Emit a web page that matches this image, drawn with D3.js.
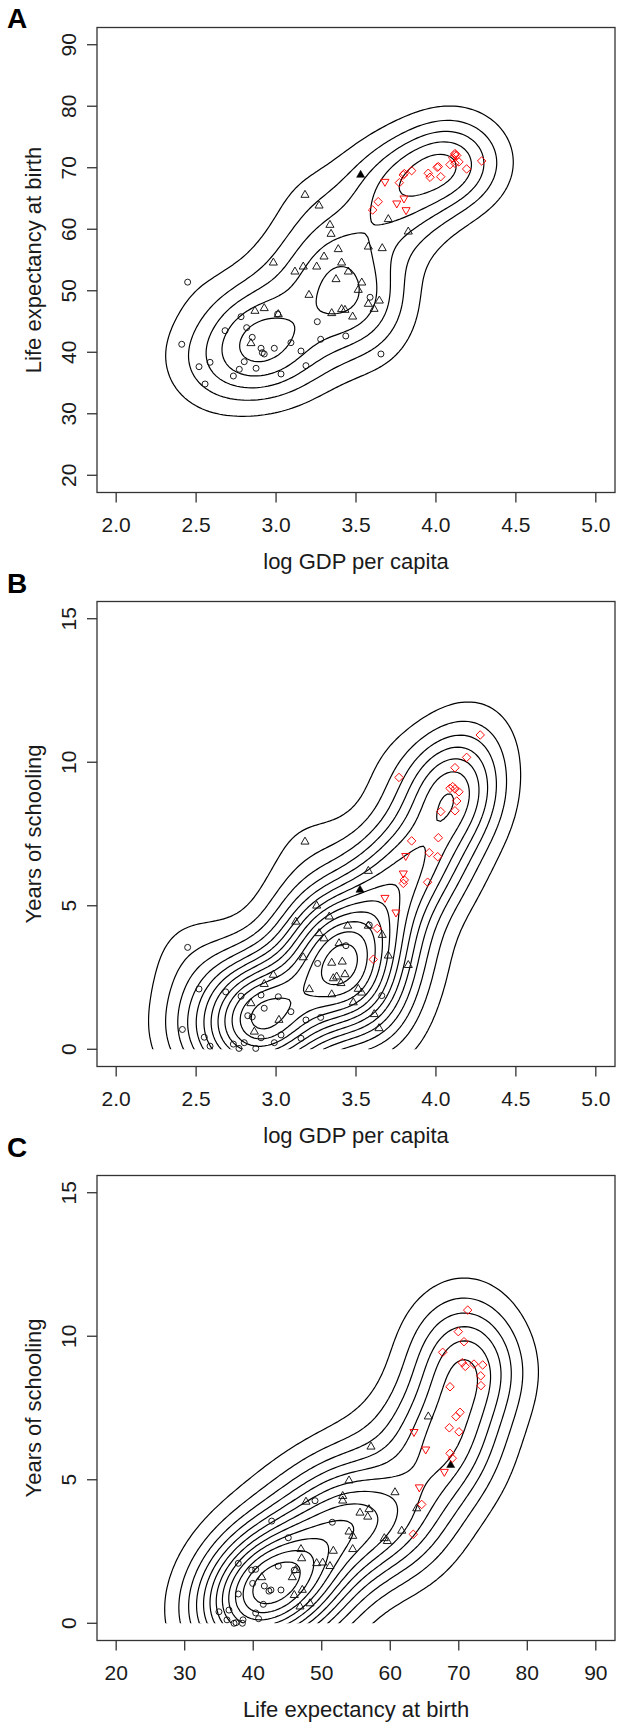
<!DOCTYPE html>
<html><head><meta charset="utf-8">
<script src="https://cdn.jsdelivr.net/npm/d3@7"></script>
<style>body{margin:0;background:#fff} text{font-family:"Liberation Sans",Arial,sans-serif;fill:#1a1a1a}</style>
</head><body><svg id="c" width="623" height="1722" xmlns="http://www.w3.org/2000/svg"></svg>
<script>
// ---------- tick labels ----------
const gdpTicks=[2.0,2.5,3.0,3.5,4.0,4.5,5.0];
const lifeTicks=[20,30,40,50,60,70,80,90];
const schoolTicks=[0,5,10,15];

// ---------- Panel A: log GDP (x) vs life expectancy (y) ----------
const aCircles=[[2.447,51.4],[2.41,41.3],[2.518,37.65],[2.556,34.84],[2.587,38.37],[2.681,43.51],[2.781,45.78],[2.816,44.0],[2.851,42.43],[2.906,40.65],[2.914,39.93],[2.926,39.72],[2.989,40.65],[3.093,41.56],[3.01,46.22],[2.801,38.47],[2.77,37.23],[2.733,36.14],[2.875,37.4],[3.031,36.47],[3.156,40.2],[3.187,37.82],[3.258,44.97],[3.279,42.11],[3.588,48.94],[3.436,42.65],[3.656,39.72]];
const aTriangles=[[3.181,65.57],[3.269,63.83],[3.337,60.69],[3.344,59.23],[2.983,54.56],[3.118,53.1],[3.17,53.91],[3.254,53.91],[3.3,55.54],[3.389,56.74],[3.375,51.86],[3.206,49.31],[3.348,46.34],[2.868,46.71],[2.926,47.15],[3.014,46.17],[2.843,41.46],[3.702,61.62],[3.827,59.6],[3.577,57.16],[3.664,56.9],[3.41,54.56],[3.452,53.1],[3.536,51.31],[3.514,50.12],[3.646,48.38],[3.577,47.85],[3.613,47.03],[3.41,46.99],[3.431,46.87],[3.479,45.78]];
const aFilled=[[3.529,68.82]];
const aRedTri=[[3.681,67.73],[3.755,64.22],[3.8,65.03],[3.813,63.13]];
const aRedDiamonds=[[3.604,63.13],[3.639,64.48],[3.771,67.57],[3.796,68.82],[3.802,69.05],[3.848,69.52],[3.952,69.1],[3.963,68.45],[4.008,70.07],[4.015,70.18],[4.03,68.54],[4.119,70.72],[4.192,69.8],[4.286,71.1],[4.144,70.95],[4.088,70.51],[4.105,71.6],[4.119,72.3],[4.13,72.0],[4.119,72.1]];

// ---------- Panel B: log GDP (x) vs years of schooling (y) ----------
const bCircles=[[2.447,3.55],[2.518,2.1],[2.685,2.0],[2.781,1.85],[2.906,1.89],[3.014,1.83],[2.926,1.43],[2.823,1.17],[2.851,1.13],[3.093,1.31],[3.26,2.99],[3.187,1.02],[3.279,1.11],[2.414,0.69],[2.551,0.42],[2.587,0.11],[2.733,0.18],[2.768,0.03],[2.801,0.23],[2.873,0.03],[2.906,0.4],[2.989,0.23],[3.031,0.5],[3.156,0.38],[3.583,4.33],[3.437,3.61],[3.661,1.87]];
const bTriangles=[[3.181,7.23],[3.254,5.0],[3.333,4.62],[3.123,4.44],[3.269,4.04],[3.3,3.86],[3.17,3.2],[2.983,2.59],[2.926,2.27],[3.208,2.09],[3.348,3.01],[3.358,2.47],[3.348,1.91],[2.843,1.6],[3.018,1.02],[2.864,0.61],[3.577,6.21],[3.448,4.3],[3.577,4.3],[3.664,3.98],[3.394,3.69],[3.702,3.26],[3.827,2.93],[3.414,3.05],[3.379,2.53],[3.431,2.61],[3.406,2.3],[3.514,2.1],[3.536,1.97],[3.483,1.63],[3.614,1.22],[3.644,0.73]];
const bFilled=[[3.525,5.55]];
const bRedTri=[[3.811,6.74],[3.796,6.13],[3.681,5.28],[3.75,4.77]];
const bRedDiamonds=[[4.277,10.95],[4.192,10.17],[4.119,9.81],[3.769,9.47],[4.088,9.09],[4.105,9.15],[4.119,9.07],[4.144,8.97],[4.13,8.65],[4.03,8.28],[4.119,8.31],[4.015,7.37],[3.848,7.26],[3.958,6.85],[4.011,6.71],[3.948,5.82],[3.802,5.9],[3.796,5.78],[3.633,4.21],[3.608,3.13]];

// ---------- Panel C: life expectancy (x) vs years of schooling (y) ----------
const cCircles=[[49.02,4.27],[42.7,3.56],[51.54,3.52],[45.12,2.98],[37.82,2.09],[39.78,1.85],[40.36,1.88],[43.66,1.99],[45.99,1.85],[39.92,1.39],[41.62,1.3],[42.3,1.12],[42.59,1.16],[44.05,1.16],[37.82,1.02],[41.47,0.66],[35.0,0.4],[36.46,0.46],[40.36,0.36],[40.78,0.16],[36.17,0.12],[37.49,0.02],[37.2,0.0],[38.51,0.12],[38.42,0.0]];
const cTriangles=[[53.98,4.97],[47.7,4.23],[53.06,4.43],[53.06,4.27],[55.58,3.85],[56.71,3.71],[53.98,3.19],[54.52,3.04],[54.52,2.58],[51.69,2.52],[46.97,2.58],[47.07,2.26],[49.26,2.09],[50.14,2.11],[51.2,1.99],[46.2,1.85],[45.7,1.6],[41.24,1.6],[47.16,1.16],[45.99,0.98],[48.29,0.69],[46.83,0.58],[65.55,7.2],[57.19,6.15],[60.69,4.56],[63.86,4.0],[56.9,3.97],[61.67,3.22],[59.13,2.96],[59.57,2.86]];
const cFilled=[[68.82,5.51]];
const cRedTri=[[63.46,6.67],[65.17,6.06],[67.89,5.28],[64.24,4.74]];
const cRedDiamonds=[[71.3,10.91],[69.93,10.16],[70.76,9.81],[67.65,9.44],[70.51,9.08],[70.95,8.95],[72.22,9.03],[73.49,9.0],[73.2,8.62],[73.24,8.28],[68.72,8.24],[70.18,7.35],[69.59,7.2],[68.62,6.81],[70.03,6.67],[68.72,5.92],[69.05,5.75],[64.59,4.14],[63.36,3.1]];

// ---------- layout ----------
const frameL=97, frameR=615, frameT0=27.5, frameH=465, panelStep=574;
const letterY=[28,593,1157];
const R0=3.0;
const FONT_TICK=21, FONT_TITLE=22;

const panels=[
  {letter:"A",xDom:[2,5],yDom:[20,90],xTicks:gdpTicks,yTicks:lifeTicks,xFmt:d3.format(".1f"),yFmt:d3.format("d"),
   xTitle:"log GDP per capita",yTitle:"Life expectancy at birth",nlevels:8,
   circ:aCircles,tri:aTriangles,fill:aFilled,rtri:aRedTri,rdia:aRedDiamonds,cutY:false},
  {letter:"B",xDom:[2,5],yDom:[0,15],xTicks:gdpTicks,yTicks:schoolTicks,xFmt:d3.format(".1f"),yFmt:d3.format("d"),
   xTitle:"log GDP per capita",yTitle:"Years of schooling",nlevels:10,
   circ:bCircles,tri:bTriangles,fill:bFilled,rtri:bRedTri,rdia:bRedDiamonds,cutY:true},
  {letter:"C",xDom:[20,90],yDom:[0,15],xTicks:lifeTicks,yTicks:schoolTicks,xFmt:d3.format("d"),yFmt:d3.format("d"),
   xTitle:"Life expectancy at birth",yTitle:"Years of schooling",nlevels:10,
   circ:cCircles,tri:cTriangles,fill:cFilled,rtri:cRedTri,rdia:cRedDiamonds,cutY:true}
];

// R-like helpers (bandwidth.nrd, pretty)
function bwNrd(v){
  const s=d3.deviation(v);
  const h=(d3.quantile(v,0.75)-d3.quantile(v,0.25))/1.34;
  return 4*1.06*Math.min(s,h)*Math.pow(v.length,-0.2);
}
function rPretty(lo,up,ndiv){
  const h=1.5,h5=0.5+1.5*h;
  let cell=(up-lo)/ndiv;
  const base=Math.pow(10,Math.floor(Math.log10(cell)));
  let unit=base,ns;
  if((ns=2*base)-cell<h*(cell-unit)){unit=ns;
    if((ns=5*base)-cell<h5*(cell-unit)){unit=ns;
      if((ns=10*base)-cell<h*(cell-unit))unit=ns;}}
  const a=Math.floor(lo/unit+1e-7), b=Math.ceil(up/unit-1e-7);
  return d3.range(a,b+1).map(k=>k*unit);
}
const dnorm=t=>Math.exp(-0.5*t*t)/Math.sqrt(2*Math.PI);
const svg=d3.select("#c");

panels.forEach((p,i)=>{
  const top=frameT0+i*panelStep, bottom=top+frameH;
  const xs0=p.xDom[1]-p.xDom[0], ys0=p.yDom[1]-p.yDom[0];
  const x=d3.scaleLinear().domain([p.xDom[0]-0.04*xs0,p.xDom[1]+0.04*xs0]).range([frameL,frameR]);
  const y=d3.scaleLinear().domain([p.yDom[0]-0.04*ys0,p.yDom[1]+0.04*ys0]).range([bottom,top]);
  const g=svg.append("g");

  // ---- 2-D kernel density on a grid over the axis limits ----
  const pts=[].concat(p.circ,p.tri,p.fill,p.rtri,p.rdia);
  const hx=bwNrd(pts.map(d=>d[0]))/4, hy=bwNrd(pts.map(d=>d[1]))/4;
  const n=140, N=pts.length;
  const gx=d3.range(n).map(k=>p.xDom[0]+xs0*k/(n-1));
  const gy=d3.range(n).map(k=>p.yDom[0]+ys0*k/(n-1));
  const z=new Float64Array(n*n);
  const ax=gx.map(v=>pts.map(d=>dnorm((v-d[0])/hx)));
  const ay=gy.map(v=>pts.map(d=>dnorm((v-d[1])/hy)));
  for(let j=0;j<n;j++)for(let k=0;k<n;k++){
    let s=0;const A=ax[k],B=ay[j];
    for(let m=0;m<N;m++)s+=A[m]*B[m];
    z[j*n+k]=s/(N*hx*hy);
  }
  const [zlo,zhi]=d3.extent(z);
  const levels=rPretty(zlo,zhi,p.nlevels).filter(v=>v>zlo&&v<zhi);
  const contours=d3.contours().size([n,n]).thresholds(levels)(z);
  const dxg=xs0/(n-1), dyg=ys0/(n-1);
  const proj=d3.geoTransform({point(u,v){
    this.stream.point(x(p.xDom[0]+(u-0.5)*dxg), y(p.yDom[0]+(v-0.5)*dyg));
  }});
  const path=d3.geoPath(proj);
  const cid="clip"+i;
  const cy0=p.cutY?y(p.yDom[0]):bottom;
  svg.append("clipPath").attr("id",cid).append("rect")
     .attr("x",x(p.xDom[0])).attr("y",top).attr("width",x(p.xDom[1])-x(p.xDom[0])).attr("height",cy0-top);
  g.append("g").attr("clip-path",`url(#${cid})`).selectAll("path").data(contours).join("path")
    .attr("d",path).attr("fill","none").attr("stroke","#000").attr("stroke-width",1.2);

  // ---- markers (R pch geometry) ----
  const tr=1.5551*R0, tyc=0.7776*R0, txc=1.3468*R0, dd=1.4142*R0;
  const triUp=(cx,cy)=>`M${cx},${cy-tr}L${cx+txc},${cy+tyc}L${cx-txc},${cy+tyc}Z`;
  const triDn=(cx,cy)=>`M${cx},${cy+tr}L${cx+txc},${cy-tyc}L${cx-txc},${cy-tyc}Z`;
  const dia=(cx,cy)=>`M${cx},${cy-dd}L${cx+dd},${cy}L${cx},${cy+dd}L${cx-dd},${cy}Z`;
  const mk=g.append("g");
  mk.selectAll("circle.o").data(p.circ).join("circle").attr("class","o")
    .attr("cx",d=>x(d[0])).attr("cy",d=>y(d[1])).attr("r",R0)
    .attr("fill","none").attr("stroke","#111").attr("stroke-width",0.95);
  mk.selectAll("path.t").data(p.tri).join("path").attr("class","t")
    .attr("d",d=>triUp(x(d[0]),y(d[1]))).attr("fill","none").attr("stroke","#111").attr("stroke-width",0.95);
  mk.selectAll("path.f").data(p.fill).join("path").attr("class","f")
    .attr("d",d=>triUp(x(d[0]),y(d[1]))).attr("fill","#000").attr("stroke","#000").attr("stroke-width",0.5);
  mk.selectAll("path.rt").data(p.rtri).join("path").attr("class","rt")
    .attr("d",d=>triDn(x(d[0]),y(d[1]))).attr("fill","none").attr("stroke","#f00").attr("stroke-width",0.95);
  mk.selectAll("path.rd").data(p.rdia).join("path").attr("class","rd")
    .attr("d",d=>dia(x(d[0]),y(d[1]))).attr("fill","none").attr("stroke","#f00").attr("stroke-width",0.95);

  // ---- frame ----
  g.append("rect").attr("x",frameL).attr("y",top).attr("width",frameR-frameL).attr("height",frameH)
    .attr("fill","none").attr("stroke","#333").attr("stroke-width",1.3);

  // ---- x axis ----
  const xa=g.append("g");
  xa.selectAll("line").data(p.xTicks).join("line")
    .attr("x1",d=>x(d)).attr("x2",d=>x(d)).attr("y1",bottom).attr("y2",bottom+10)
    .attr("stroke","#333").attr("stroke-width",1.3);
  xa.selectAll("text").data(p.xTicks).join("text")
    .attr("x",d=>x(d)).attr("y",bottom+39.5).attr("text-anchor","middle")
    .attr("font-size",FONT_TICK).text(p.xFmt);
  g.append("text").attr("x",(frameL+frameR)/2).attr("y",bottom+76).attr("text-anchor","middle")
    .attr("font-size",FONT_TITLE).text(p.xTitle);

  // ---- y axis ----
  const ya=g.append("g");
  ya.selectAll("line").data(p.yTicks).join("line")
    .attr("x1",frameL).attr("x2",frameL-10).attr("y1",d=>y(d)).attr("y2",d=>y(d))
    .attr("stroke","#333").attr("stroke-width",1.3);
  ya.selectAll("text").data(p.yTicks).join("text")
    .attr("transform",d=>`translate(${frameL-21},${y(d)}) rotate(-90)`).attr("text-anchor","middle")
    .attr("font-size",FONT_TICK).text(p.yFmt);
  g.append("text").attr("transform",`translate(41,${(top+bottom)/2}) rotate(-90)`).attr("text-anchor","middle")
    .attr("font-size",FONT_TITLE).text(p.yTitle);

  // ---- panel letter ----
  g.append("text").attr("x",7).attr("y",letterY[i]).attr("font-size",28).attr("font-weight","bold")
    .style("fill","#000").text(p.letter);
});
</script>
</body></html>
